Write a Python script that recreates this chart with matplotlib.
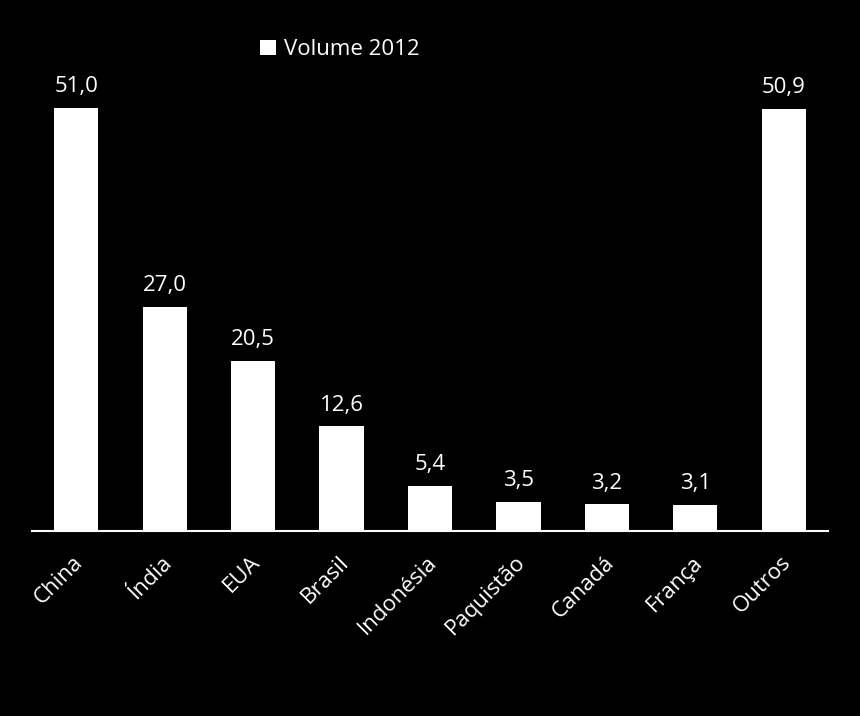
import numpy as np
import matplotlib.pyplot as plt

paises = ['China', 'Índia', 'EUA', 'Brasil', 'Indonésia', 'Paquistão',
          'Canadá', 'França', 'Outros']
volume = [51.0, 27.0, 20.5, 12.6, 5.4, 3.5, 3.2, 3.1, 50.9]

plt.rcParams['font.family'] = ['Open Sans', 'DejaVu Sans']

fig = plt.figure(figsize=(8.6, 7.16), dpi=100, facecolor='black')
ax = fig.add_axes([32 / 860, 1 - 531 / 716, 796 / 860, 498 / 716])
ax.set_facecolor('black')

x = np.arange(len(paises))
bars = ax.bar(x, volume, width=0.5, color='white', label='Volume 2012')
for xi, v in zip(x, volume):
    ax.text(xi, v + 1.3, f'{v:.1f}'.replace('.', ','), ha='center', va='bottom',
            color='white', fontsize=16)

ax.set_xlim(-0.5, len(paises) - 0.5)
ax.set_ylim(0, 60)
ax.set_yticks([])
ax.set_xticks(x - 0.04)
ax.set_xticklabels(paises, rotation=45, ha='right', rotation_mode='anchor',
                   color='white', fontsize=16)
ax.tick_params(axis='x', length=0, pad=15)
for s in ['top', 'right', 'left']:
    ax.spines[s].set_visible(False)
ax.spines['bottom'].set_color('white')
ax.spines['bottom'].set_linewidth(1.5)

leg = ax.legend(loc='center', bbox_to_anchor=(0.387, 0.966), frameon=False,
                fontsize=16, handlelength=0.7, handleheight=0.7, handletextpad=0.4)
for t in leg.get_texts():
    t.set_color('white')

fig.savefig('out.png', facecolor='black')
